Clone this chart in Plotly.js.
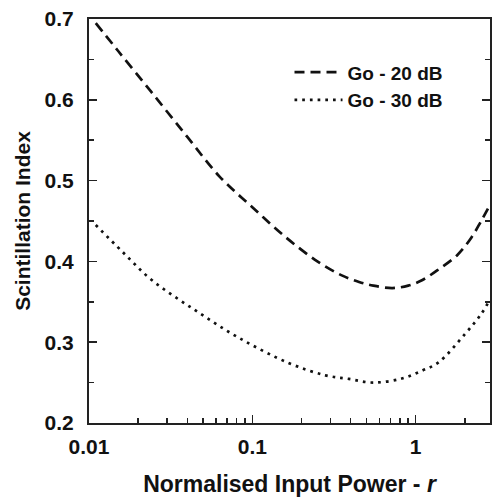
<!DOCTYPE html>
<html>
<head>
<meta charset="utf-8">
<script src="https://cdn.plot.ly/plotly-3.0.1.min.js"></script>
<style>html,body{margin:0;padding:0;background:#fff;}#chart{width:493px;height:497px;}</style>
</head>
<body>
<div id="chart"></div>
<script>
// Normalised input power r (log axis)
const r20 = [0.011, 0.015, 0.024, 0.04, 0.063, 0.1, 0.16, 0.25, 0.35, 0.45, 0.55, 0.72, 0.9, 1.1, 1.4, 1.8, 2.2, 2.5, 2.85];
const si20 = [0.695, 0.661, 0.610, 0.554, 0.505, 0.467, 0.430, 0.400, 0.383, 0.3745, 0.370, 0.367, 0.370, 0.377, 0.391, 0.408, 0.430, 0.449, 0.470];

const r30 = [0.011, 0.016, 0.0242, 0.0443, 0.0834, 0.168, 0.28, 0.39, 0.55, 0.822, 1.1, 1.38, 2.02, 2.5, 2.85];
const si30 = [0.445, 0.412, 0.377, 0.340, 0.305, 0.274, 0.259, 0.2545, 0.250, 0.255, 0.265, 0.275, 0.311, 0.334, 0.353];

const seriesNames = ['Go - 20 dB', 'Go - 30 dB'];
const xTickVals = [0.01, 0.1, 1];
const xTickText = ['0.01', '0.1', '1'];
const xMinorVals = [0.02,0.03,0.04,0.05,0.06,0.07,0.08,0.09,0.2,0.3,0.4,0.5,0.6,0.7,0.8,0.9,2];
const yTickVals = [0.2, 0.3, 0.4, 0.5, 0.6, 0.7];

const fam = '"Liberation Sans", Arial, sans-serif';
const ink = '#111';

const traces = [
  {x: r20, y: si20, name: seriesNames[0], mode: 'lines', type: 'scatter',
   line: {color: ink, width: 2.7, dash: '10px,6px', shape: 'spline', smoothing: 1}},
  {x: r30, y: si30, name: seriesNames[1], mode: 'lines', type: 'scatter',
   line: {color: ink, width: 2.7, dash: '2.7px,5px', shape: 'spline', smoothing: 1}}
];

const layout = {
  width: 493, height: 497,
  margin: {l: 89, r: 3, t: 19, b: 74},
  paper_bgcolor: '#fff', plot_bgcolor: '#fff',
  font: {family: fam, color: ink, size: 15},
  showlegend: true,
  legend: {x: 0.5, y: 0.915, xanchor: 'left', yanchor: 'top', bgcolor: 'rgba(0,0,0,0)',
           itemwidth: 48, tracegroupgap: 0,
           font: {family: fam, size: 19, color: ink, weight: 'bold'}},
  xaxis: {
    type: 'log', range: [Math.log10(0.01), Math.log10(2.85)],
    tickvals: xTickVals, ticktext: xTickText,
    ticks: 'inside', ticklen: 8, tickwidth: 1.5, tickcolor: '#222',
    minor: {tickvals: xMinorVals, ticks: 'inside', ticklen: 5, tickwidth: 1.5, tickcolor: '#222'},
    showline: true, linewidth: 2, linecolor: '#222', mirror: true,
    showgrid: false, zeroline: false,
    ticklabelstandoff: 4,
    tickfont: {family: fam, size: 21, color: ink, weight: 'bold'},
    title: {text: 'Normalised Input Power - <i>r</i>', font: {family: fam, size: 23, color: ink, weight: 'bold'}, standoff: 19}
  },
  yaxis: {
    range: [0.2, 0.7], tickvals: yTickVals, ticktext: yTickVals.map(v => v.toFixed(1)),
    ticks: 'inside', ticklen: 8, tickwidth: 1.5, tickcolor: '#222',
    minor: {dtick: 0.05, ticks: 'inside', ticklen: 5, tickwidth: 1.5, tickcolor: '#222'},
    showline: true, linewidth: 2, linecolor: '#222', mirror: 'ticks',
    showgrid: false, zeroline: false,
    ticklabelstandoff: 9,
    tickfont: {family: fam, size: 21, color: ink, weight: 'bold'},
    title: {text: 'Scintillation Index', font: {family: fam, size: 21, color: ink, weight: 'bold'}, standoff: 8}
  }
};

Plotly.newPlot('chart', traces, layout, {staticPlot: true, displayModeBar: false});
</script>
</body>
</html>
